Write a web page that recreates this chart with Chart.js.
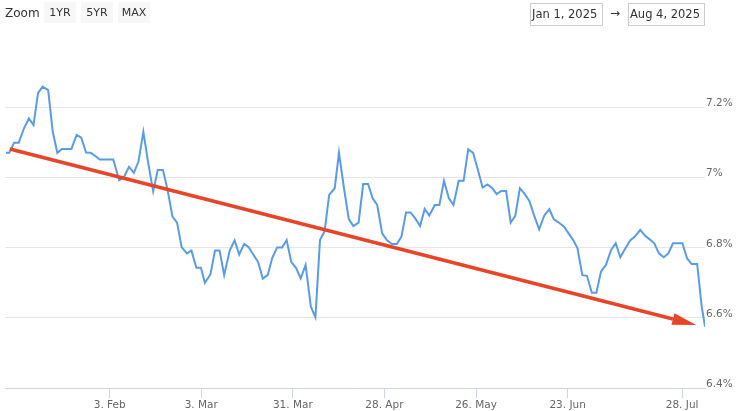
<!DOCTYPE html>
<html>
<head>
<meta charset="utf-8">
<script src="https://cdn.jsdelivr.net/npm/chart.js@4"></script>
<style>
  body { margin: 0; background: #fff; font-family: "DejaVu Sans", sans-serif; }
  #wrap { position: relative; width: 737px; height: 411px; overflow: hidden; }
  #chart { position: absolute; left: 0; top: 0; }
  .lbl { position: absolute; font-size: 12px; color: #333; }
  .btn { position: absolute; top: 2px; width: 32px; height: 21px; line-height: 21px; background: #f7f7f7;
         text-align: center; font-size: 11px; color: #333; }
  .date { position: absolute; top: 3px; height: 23px; line-height: 21px; box-sizing: border-box;
          border: 1px solid #ccc; font-size: 11.5px; color: #333; padding-left: 1px; white-space: nowrap; }
</style>
</head>
<body>
<div id="wrap">
  <canvas id="chart" width="737" height="411"></canvas>
  <div class="lbl" style="left:5px; top:6px;">Zoom</div>
  <div class="btn" style="left:44px;">1YR</div>
  <div class="btn" style="left:81px;">5YR</div>
  <div class="btn" style="left:118px;">MAX</div>
  <div class="date" style="left:530px; width:73px;">Jan 1, 2025</div>
  <div class="lbl" style="left:610px; top:6px;">→</div>
  <div class="date" style="left:628px; width:77px;">Aug 4, 2025</div>
</div>
<script>
// days counted from 1 Jan 2025 (day 0), yields in %
const days = [
  1.3, 2.3, 3.8, 5.2, 6.8, 8.3, 9.7, 11.1, 12.5, 14.2,
  15.6, 17.0, 18.4, 19.9, 21.3, 22.9, 24.3, 25.8, 27.2, 28.6,
  30.0, 31.5, 32.8, 34.1, 35.9, 37.4, 38.9, 40.4, 41.8, 43.3,
  44.8, 46.3, 47.7, 49.3, 50.7, 52.2, 53.6, 55.0, 56.6, 58.0,
  59.5, 60.9, 62.1, 63.8, 65.2, 66.6, 68.0, 69.7, 71.2, 72.6,
  74.1, 75.5, 76.9, 78.4, 79.8, 81.3, 82.7, 84.2, 85.7, 87.1,
  88.5, 90.0, 91.4, 92.9, 94.5, 95.9, 97.3, 98.7, 100.1, 101.8,
  103.1, 104.6, 106.1, 107.5, 109.1, 110.5, 112.0, 113.4, 114.8, 116.3,
  117.7, 119.3, 120.8, 122.2, 123.6, 125.0, 126.4, 127.9, 129.3, 130.7,
  132.4, 133.8, 135.2, 136.7, 138.1, 139.7, 141.2, 142.6, 144.1, 145.5,
  147.0, 148.5, 149.9, 151.3, 152.7, 154.2, 155.6, 157.0, 158.4, 159.9,
  161.3, 162.7, 164.3, 165.8, 167.4, 168.8, 170.3, 171.9, 173.3, 174.7,
  176.0, 177.5, 178.9, 180.4, 181.8, 183.2, 184.7, 186.3, 187.7, 189.1,
  190.5, 192.2, 193.6, 195.2, 196.7, 198.1, 199.5, 200.9, 202.4, 203.8,
  205.2, 206.7, 208.1, 209.5, 210.9, 212.6, 214.0, 215.0
];
const yields = [
  7.071, 7.071, 7.100, 7.100, 7.141, 7.169, 7.150, 7.241, 7.260, 7.250,
  7.131, 7.071, 7.082, 7.082, 7.082, 7.122, 7.114, 7.072, 7.071, 7.062,
  7.052, 7.052, 7.052, 7.052, 6.993, 7.002, 7.031, 7.014, 7.046, 7.131,
  7.041, 6.961, 7.022, 7.022, 6.965, 6.889, 6.872, 6.802, 6.784, 6.792,
  6.743, 6.743, 6.700, 6.724, 6.792, 6.792, 6.722, 6.792, 6.821, 6.781,
  6.811, 6.802, 6.781, 6.759, 6.712, 6.722, 6.771, 6.801, 6.801, 6.822,
  6.760, 6.742, 6.713, 6.751, 6.632, 6.602, 6.822, 6.847, 6.951, 6.970,
  7.071, 6.972, 6.882, 6.862, 6.872, 6.982, 6.982, 6.941, 6.922, 6.841,
  6.822, 6.811, 6.811, 6.832, 6.901, 6.901, 6.884, 6.862, 6.911, 6.892,
  6.922, 6.922, 6.991, 6.941, 6.922, 6.991, 6.991, 7.081, 7.071, 7.025,
  6.972, 6.981, 6.971, 6.953, 6.962, 6.962, 6.872, 6.891, 6.970, 6.953,
  6.934, 6.894, 6.853, 6.891, 6.910, 6.881, 6.872, 6.860, 6.841, 6.822,
  6.799, 6.722, 6.720, 6.672, 6.672, 6.732, 6.751, 6.794, 6.813, 6.773,
  6.796, 6.822, 6.832, 6.851, 6.834, 6.824, 6.813, 6.784, 6.773, 6.784,
  6.813, 6.813, 6.813, 6.770, 6.754, 6.754, 6.632, 6.575
];

// trend arrow: start and base of the arrow head
const trendDays = [2.5, 205.2];
const trendValues = [7.082, 6.597];

const tickDays = [33, 61, 89, 117, 145, 173, 208];
const tickLabels = ['3. Feb', '3. Mar', '31. Mar', '28. Apr', '26. May', '23. Jun', '28. Jul'];
const yTicks = [6.4, 6.6, 6.8, 7.0, 7.2];

const RED = '#e84427';

const arrowHead = {
  id: 'arrowHead',
  afterDatasetsDraw(chart) {
    const pts = chart.getDatasetMeta(0).data;
    const a = pts[pts.length - 2], b = pts[pts.length - 1];
    const ang = Math.atan2(b.y - a.y, b.x - a.x);
    const len = 24, half = 6;
    const tx = b.x + Math.cos(ang) * len, ty = b.y + Math.sin(ang) * len;
    const ctx = chart.ctx;
    ctx.save();
    ctx.fillStyle = RED;
    ctx.beginPath();
    ctx.moveTo(tx, ty);
    ctx.lineTo(b.x - Math.sin(ang) * half, b.y + Math.cos(ang) * half);
    ctx.lineTo(b.x + Math.sin(ang) * half, b.y - Math.cos(ang) * half);
    ctx.closePath();
    ctx.fill();
    ctx.restore();
  }
};

new Chart(document.getElementById('chart'), {
  type: 'line',
  data: {
    datasets: [
      {
        data: trendDays.map((d, i) => ({ x: d, y: trendValues[i] })),
        borderColor: RED,
        borderWidth: 3.5,
        pointRadius: 0,
        tension: 0
      },
      {
        data: days.map((d, i) => ({ x: d, y: yields[i] })),
        borderColor: '#5a9be6',
        borderWidth: 2,
        pointRadius: 0,
        tension: 0
      }
    ]
  },
  options: {
    responsive: false,
    animation: false,
    layout: { padding: { left: 5, top: 37.5, right: 0, bottom: 0 } },
    plugins: { legend: { display: false }, tooltip: { enabled: false } },
    scales: {
      x: {
        type: 'linear',
        min: 1,
        max: 215,
        afterBuildTicks: s => { s.ticks = tickDays.map(v => ({ value: v })); },
        afterFit: s => { s.height = 23; },
        ticks: {
          callback: v => tickLabels[tickDays.indexOf(v)],
          color: '#666',
          font: { family: 'DejaVu Sans', size: 10.5 },
          padding: 1,
          maxRotation: 0,
          autoSkip: false
        },
        grid: { drawOnChartArea: false, drawTicks: true, tickLength: 10, color: '#ccd6eb' },
        border: { color: '#ccd6eb' }
      },
      y: {
        position: 'right',
        min: 6.4,
        max: 7.4,
        afterBuildTicks: s => { s.ticks = yTicks.map(v => ({ value: v })); },
        afterFit: s => { s.width = 32; },
        ticks: {
          callback: v => (v === 7 ? '7' : v.toFixed(1)) + '%',
          color: '#666',
          font: { family: 'DejaVu Sans', size: 10.5 },
          padding: 1,
          labelOffset: -4
        },
        grid: { color: '#e6e6e6', drawTicks: false },
        border: { display: false }
      }
    }
  },
  plugins: [arrowHead]
});
</script>
</body>
</html>
